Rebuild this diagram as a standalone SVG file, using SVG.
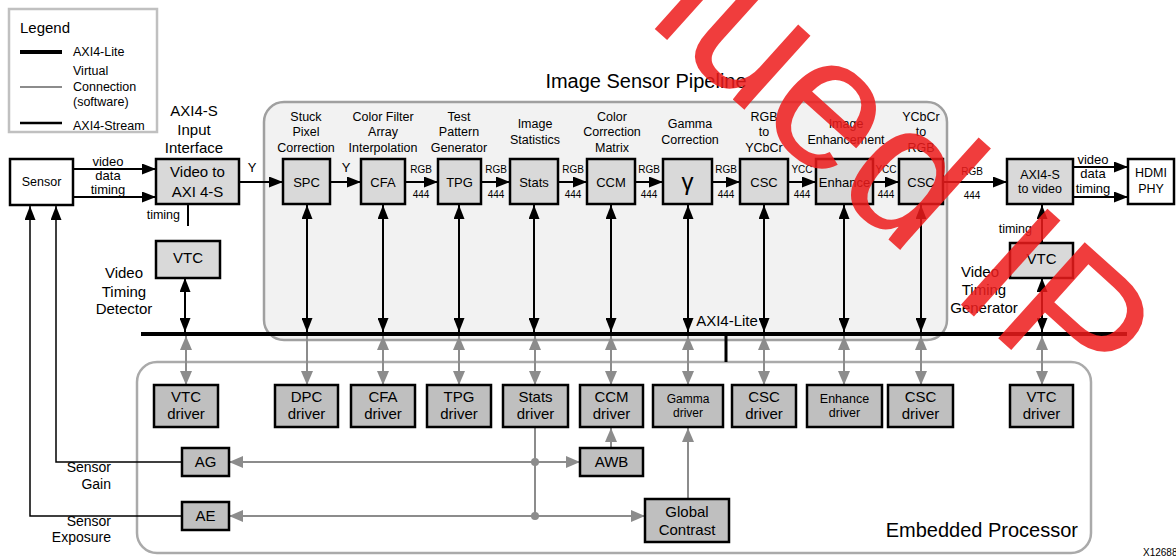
<svg xmlns="http://www.w3.org/2000/svg" width="1176" height="558" viewBox="0 0 1176 558">
<style>
text{font-family:'Liberation Sans',Arial,sans-serif;fill:#000}
.c{text-anchor:middle}
.e{text-anchor:end}
.pb{fill:#d9d9d9;stroke:#000;stroke-width:2.5}
.db{fill:#bfbfbf;stroke:#000;stroke-width:2.5}
.wb{fill:#fff;stroke:#000;stroke-width:2.5}
.bl{stroke:#000;stroke-width:2;fill:none}
.gl{stroke:#8c8c8c;stroke-width:2;fill:none}
.thin{stroke:#000;stroke-width:1.5;fill:none}
.f10{font-size:10px}
.f12{font-size:12.5px}
.f13{font-size:13px}
.f15{font-size:15px}
.f20{font-size:20px}
</style>
<defs>
<marker id="ab" viewBox="0 0 14 11" refX="14" refY="5.5" markerWidth="14" markerHeight="11" markerUnits="userSpaceOnUse" orient="auto-start-reverse"><path d="M0,0L14,5.5L0,11z" fill="#000"/></marker>
<marker id="ag" viewBox="0 0 14 12" refX="14" refY="6" markerWidth="14" markerHeight="12" markerUnits="userSpaceOnUse" orient="auto-start-reverse"><path d="M0,0L14,6L0,12z" fill="#8c8c8c"/></marker>
</defs>
<rect width="1176" height="558" fill="#fff"/>

<g id="legend">
<rect x="9" y="9" width="148" height="123" fill="#fff" stroke="#c0c0c0" stroke-width="2.5"/>
<text x="20" y="33" class="f15">Legend</text>
<line x1="20" y1="52" x2="62" y2="52" stroke="#000" stroke-width="4"/>
<text x="73" y="56" class="f12">AXI4-Lite</text>
<line x1="20" y1="87" x2="62" y2="87" stroke="#8c8c8c" stroke-width="2"/>
<text x="73" y="75" class="f12">Virtual</text>
<text x="73" y="91" class="f12">Connection</text>
<text x="73" y="106" class="f12">(software)</text>
<line x1="20" y1="123" x2="62" y2="123" stroke="#000" stroke-width="2.5"/>
<text x="73" y="130" class="f12">AXI4-Stream</text>
</g>

<g id="pipeline-frame">
<rect x="264" y="102" width="683" height="238" rx="20" fill="#f2f2f2" stroke="#a0a0a0" stroke-width="2.5"/>
<text x="646" y="88" class="c f20">Image Sensor Pipeline</text>
</g>
<g id="processor-frame">
<rect x="137" y="362" width="954" height="191" rx="20" fill="none" stroke="#aaaaaa" stroke-width="2.5"/>
<text x="1078" y="537" class="e f20">Embedded Processor</text>
</g>

<g id="connectors">
<line class="bl" x1="73" y1="169" x2="156" y2="169" marker-end="url(#ab)"/>
<line class="bl" x1="73" y1="197" x2="156" y2="197" marker-end="url(#ab)"/>
<text x="108" y="166" class="c f13">video</text>
<text x="108" y="180" class="c f13">data</text>
<text x="108" y="194" class="c f13">timing</text>
<line class="bl" x1="239" y1="182" x2="283" y2="182" marker-end="url(#ab)"/>
<text x="252" y="172" class="c f13">Y</text>
<line class="bl" x1="188" y1="204" x2="188" y2="226"/>
<text x="180" y="219" class="e f12">timing</text>
<line class="bl" x1="330" y1="182" x2="361" y2="182" marker-end="url(#ab)"/>
<text x="346" y="172" class="c f13">Y</text>
<line class="bl" x1="405" y1="182" x2="438" y2="182" marker-end="url(#ab)"/>
<line class="bl" x1="481" y1="182" x2="510" y2="182" marker-end="url(#ab)"/>
<line class="bl" x1="558" y1="182" x2="587" y2="182" marker-end="url(#ab)"/>
<line class="bl" x1="635" y1="182" x2="663" y2="182" marker-end="url(#ab)"/>
<line class="bl" x1="712" y1="182" x2="740" y2="182" marker-end="url(#ab)"/>
<line class="bl" x1="788" y1="182" x2="816" y2="182" marker-end="url(#ab)"/>
<line class="bl" x1="873" y1="182" x2="899" y2="182" marker-end="url(#ab)"/>
<line class="bl" x1="943" y1="182" x2="1007" y2="182" marker-end="url(#ab)"/>
<g class="f10">
<text x="421" y="173" class="c">RGB</text><text x="421" y="198" class="c">444</text>
<text x="496" y="173" class="c">RGB</text><text x="496" y="198" class="c">444</text>
<text x="573" y="173" class="c">RGB</text><text x="573" y="198" class="c">444</text>
<text x="649" y="173" class="c">RGB</text><text x="649" y="198" class="c">444</text>
<text x="726" y="173" class="c">RGB</text><text x="726" y="198" class="c">444</text>
<text x="802" y="173" class="c">YCC</text><text x="802" y="198" class="c">444</text>
<text x="886" y="173" class="c">YCC</text><text x="886" y="198" class="c">444</text>
<text x="972" y="175" class="c">RGB</text><text x="972" y="199" class="c">444</text>
</g>
<line class="bl" x1="1073" y1="167" x2="1128" y2="167" marker-end="url(#ab)"/>
<line class="bl" x1="1073" y1="197" x2="1128" y2="197" marker-end="url(#ab)"/>
<text x="1093" y="164" class="c f13">video</text>
<text x="1093" y="178" class="c f13">data</text>
<text x="1093" y="193" class="c f13">timing</text>
<line class="bl" x1="1042" y1="243" x2="1042" y2="205" marker-end="url(#ab)"/>
<text x="1032" y="233" class="e f12">timing</text>
<line x1="141" y1="334" x2="1127" y2="334" stroke="#000" stroke-width="4"/>
<line x1="726" y1="334" x2="726" y2="362" stroke="#000" stroke-width="3"/>
<text x="727" y="326" class="c f15">AXI4-Lite</text>
<line class="bl" x1="185" y1="278" x2="185" y2="332" marker-start="url(#ab)" marker-end="url(#ab)"/>
<line class="bl" x1="1042" y1="278" x2="1042" y2="332" marker-start="url(#ab)" marker-end="url(#ab)"/>
<line class="bl" x1="307" y1="205" x2="307" y2="332" marker-start="url(#ab)" marker-end="url(#ab)"/>
<line class="bl" x1="383" y1="205" x2="383" y2="332" marker-start="url(#ab)" marker-end="url(#ab)"/>
<line class="bl" x1="459" y1="205" x2="459" y2="332" marker-start="url(#ab)" marker-end="url(#ab)"/>
<line class="bl" x1="534" y1="205" x2="534" y2="332" marker-start="url(#ab)" marker-end="url(#ab)"/>
<line class="bl" x1="611" y1="205" x2="611" y2="332" marker-start="url(#ab)" marker-end="url(#ab)"/>
<line class="bl" x1="688" y1="205" x2="688" y2="332" marker-start="url(#ab)" marker-end="url(#ab)"/>
<line class="bl" x1="764" y1="205" x2="764" y2="332" marker-start="url(#ab)" marker-end="url(#ab)"/>
<line class="bl" x1="844" y1="205" x2="844" y2="332" marker-start="url(#ab)" marker-end="url(#ab)"/>
<line class="bl" x1="921" y1="205" x2="921" y2="332" marker-start="url(#ab)" marker-end="url(#ab)"/>
<line class="gl" x1="186" y1="336" x2="186" y2="385" marker-start="url(#ag)" marker-end="url(#ag)"/>
<line class="gl" x1="307" y1="336" x2="307" y2="385" marker-end="url(#ag)"/>
<line class="gl" x1="383" y1="336" x2="383" y2="385" marker-start="url(#ag)" marker-end="url(#ag)"/>
<line class="gl" x1="459" y1="336" x2="459" y2="385" marker-start="url(#ag)" marker-end="url(#ag)"/>
<line class="gl" x1="535" y1="336" x2="535" y2="385" marker-start="url(#ag)" marker-end="url(#ag)"/>
<line class="gl" x1="611" y1="336" x2="611" y2="385" marker-start="url(#ag)" marker-end="url(#ag)"/>
<line class="gl" x1="688" y1="336" x2="688" y2="385" marker-start="url(#ag)" marker-end="url(#ag)"/>
<line class="gl" x1="764" y1="336" x2="764" y2="385" marker-start="url(#ag)" marker-end="url(#ag)"/>
<line class="gl" x1="844" y1="336" x2="844" y2="385" marker-start="url(#ag)" marker-end="url(#ag)"/>
<line class="gl" x1="921" y1="336" x2="921" y2="385" marker-start="url(#ag)" marker-end="url(#ag)"/>
<line class="gl" x1="1042" y1="336" x2="1042" y2="385" marker-start="url(#ag)" marker-end="url(#ag)"/>
<line class="gl" x1="535" y1="427" x2="535" y2="516"/>
<line class="gl" x1="229" y1="462" x2="580" y2="462" marker-start="url(#ag)" marker-end="url(#ag)"/>
<line class="gl" x1="229" y1="516" x2="645" y2="516" marker-start="url(#ag)" marker-end="url(#ag)"/>
<circle cx="535" cy="462" r="4" fill="#8c8c8c"/>
<circle cx="535" cy="516" r="4" fill="#8c8c8c"/>
<line class="gl" x1="611" y1="448" x2="611" y2="428" marker-end="url(#ag)"/>
<line class="gl" x1="688" y1="499" x2="688" y2="428" marker-end="url(#ag)"/>
<polyline class="thin" points="182,462 56,462 56,206" marker-end="url(#ab)"/>
<polyline class="thin" points="182,516 30,516 30,206" marker-end="url(#ab)"/>
<text x="111" y="472" class="e" font-size="14">Sensor</text>
<text x="111" y="489" class="e" font-size="14">Gain</text>
<text x="111" y="526" class="e" font-size="14">Sensor</text>
<text x="111" y="542" class="e" font-size="14">Exposure</text>
</g>

<g id="sensor"><rect class="wb" x="10" y="159" width="63" height="46"/><text x="41.5" y="186" class="c f12">Sensor</text></g>
<g id="axis-in-label" class="f15"><text x="194" y="116" class="c">AXI4-S</text><text x="194" y="135" class="c">Input</text><text x="194" y="153" class="c">Interface</text></g>
<g id="video-to-axi"><rect class="pb" x="156" y="159" width="83" height="45"/><text x="197.5" y="177" class="c f15">Video to</text><text x="197.5" y="197" class="c f15">AXI 4-S</text></g>
<g id="vtc-det"><rect class="pb" x="156" y="241" width="64" height="37"/><text x="188" y="263" class="c f15">VTC</text>
<text x="124" y="278" class="c f15">Video</text><text x="124" y="297" class="c f15">Timing</text><text x="124" y="314" class="c f15">Detector</text></g>

<g id="spc"><text x="306" y="121" class="c f12">Stuck</text><text x="306" y="136" class="c f12">Pixel</text><text x="306" y="152" class="c f12">Correction</text>
<rect class="pb" x="283" y="159" width="47" height="45"/><text x="306.5" y="187" class="c f13">SPC</text></g>
<g id="cfa"><text x="383" y="121" class="c f12">Color Filter</text><text x="383" y="136" class="c f12">Array</text><text x="383" y="152" class="c f12">Interpolation</text>
<rect class="pb" x="361" y="159" width="44" height="45"/><text x="383" y="187" class="c f13">CFA</text></g>
<g id="tpg"><text x="459" y="121" class="c f12">Test</text><text x="459" y="136" class="c f12">Pattern</text><text x="459" y="152" class="c f12">Generator</text>
<rect class="pb" x="438" y="159" width="43" height="45"/><text x="459.5" y="187" class="c f13">TPG</text></g>
<g id="stats"><text x="535" y="128" class="c f12">Image</text><text x="535" y="144" class="c f12">Statistics</text>
<rect class="pb" x="510" y="159" width="48" height="45"/><text x="534" y="187" class="c f13">Stats</text></g>
<g id="ccm"><text x="612" y="121" class="c f12">Color</text><text x="612" y="136" class="c f12">Correction</text><text x="612" y="152" class="c f12">Matrix</text>
<rect class="pb" x="587" y="159" width="48" height="45"/><text x="611" y="187" class="c f13">CCM</text></g>
<g id="gamma"><text x="690" y="128" class="c f12">Gamma</text><text x="690" y="144" class="c f12">Correction</text>
<rect class="pb" x="663" y="159" width="49" height="45"/><text x="687.5" y="190" class="c" font-size="24">γ</text></g>
<g id="csc1"><text x="764" y="121" class="c f12">RGB</text><text x="764" y="136" class="c f12">to</text><text x="764" y="152" class="c f12">YCbCr</text>
<rect class="pb" x="740" y="159" width="48" height="45"/><text x="764" y="187" class="c f13">CSC</text></g>
<g id="enhance"><text x="846" y="128" class="c f12">Image</text><text x="846" y="144" class="c f12">Enhancement</text>
<rect class="pb" x="816" y="159" width="57" height="45"/><text x="844.5" y="187" class="c f13">Enhance</text></g>
<g id="csc2"><text x="921" y="121" class="c f12">YCbCr</text><text x="921" y="136" class="c f12">to</text><text x="921" y="152" class="c f12">RGB</text>
<rect class="pb" x="899" y="159" width="44" height="45"/><text x="921" y="187" class="c f13">CSC</text></g>

<g id="axis-out"><rect class="pb" x="1007" y="159" width="66" height="45"/><text x="1040" y="179" class="c f12">AXI4-S</text><text x="1040" y="193" class="c f12">to video</text></g>
<g id="hdmi"><rect class="wb" x="1128" y="159" width="46" height="45"/><text x="1151" y="177" class="c f12">HDMI</text><text x="1151" y="193" class="c f12">PHY</text></g>
<g id="vtc-gen"><rect class="pb" x="1010" y="243" width="63" height="35"/><text x="1041.5" y="264" class="c f15">VTC</text>
<text x="980" y="277" class="c f15">Video</text><text x="984" y="295" class="c f15">Timing</text><text x="984" y="313" class="c f15">Generator</text></g>

<g id="vtc-driver-l"><rect class="db" x="154" y="385" width="64" height="42"/><text x="186" y="402" class="c f15">VTC</text><text x="186" y="419" class="c f15">driver</text></g>
<g id="dpc-driver"><rect class="db" x="275" y="385" width="63" height="42"/><text x="306.5" y="402" class="c f15">DPC</text><text x="306.5" y="419" class="c f15">driver</text></g>
<g id="cfa-driver"><rect class="db" x="351" y="385" width="64" height="42"/><text x="383" y="402" class="c f15">CFA</text><text x="383" y="419" class="c f15">driver</text></g>
<g id="tpg-driver"><rect class="db" x="427" y="385" width="64" height="42"/><text x="459" y="402" class="c f15">TPG</text><text x="459" y="419" class="c f15">driver</text></g>
<g id="stats-driver"><rect class="db" x="503" y="385" width="65" height="42"/><text x="535.5" y="402" class="c f15">Stats</text><text x="535.5" y="419" class="c f15">driver</text></g>
<g id="ccm-driver"><rect class="db" x="580" y="385" width="63" height="42"/><text x="611.5" y="402" class="c f15">CCM</text><text x="611.5" y="419" class="c f15">driver</text></g>
<g id="gamma-driver"><rect class="db" x="653" y="385" width="70" height="42"/><text x="688" y="403" class="c" font-size="12">Gamma</text><text x="688" y="417" class="c" font-size="12">driver</text></g>
<g id="csc-driver1"><rect class="db" x="732" y="385" width="64" height="42"/><text x="764" y="402" class="c f15">CSC</text><text x="764" y="419" class="c f15">driver</text></g>
<g id="enh-driver"><rect class="db" x="807" y="385" width="75" height="42"/><text x="844.5" y="403" class="c f12">Enhance</text><text x="844.5" y="417" class="c f12">driver</text></g>
<g id="csc-driver2"><rect class="db" x="888" y="385" width="65" height="42"/><text x="920.5" y="402" class="c f15">CSC</text><text x="920.5" y="419" class="c f15">driver</text></g>
<g id="vtc-driver-r"><rect class="db" x="1010" y="385" width="63" height="42"/><text x="1041.5" y="402" class="c f15">VTC</text><text x="1041.5" y="419" class="c f15">driver</text></g>

<g id="ag"><rect class="db" x="182" y="448" width="47" height="28"/><text x="205.5" y="467" class="c f15">AG</text></g>
<g id="ae"><rect class="db" x="182" y="502" width="47" height="28"/><text x="205.5" y="521" class="c f15">AE</text></g>
<g id="awb"><rect class="db" x="580" y="448" width="63" height="28"/><text x="611.5" y="467" class="c f15">AWB</text></g>
<g id="global-contrast"><rect class="db" x="645" y="499" width="84" height="43"/><text x="687" y="517" class="c f15">Global</text><text x="687" y="535" class="c f15">Contrast</text></g>

<text x="1143" y="556" font-size="10">X12688</text>

<g id="watermark" opacity="0.85"><text transform="translate(1080,412) rotate(42)" text-anchor="end" font-size="188" style="fill:#ee1c1c">Discontinued IP</text></g>
</svg>
